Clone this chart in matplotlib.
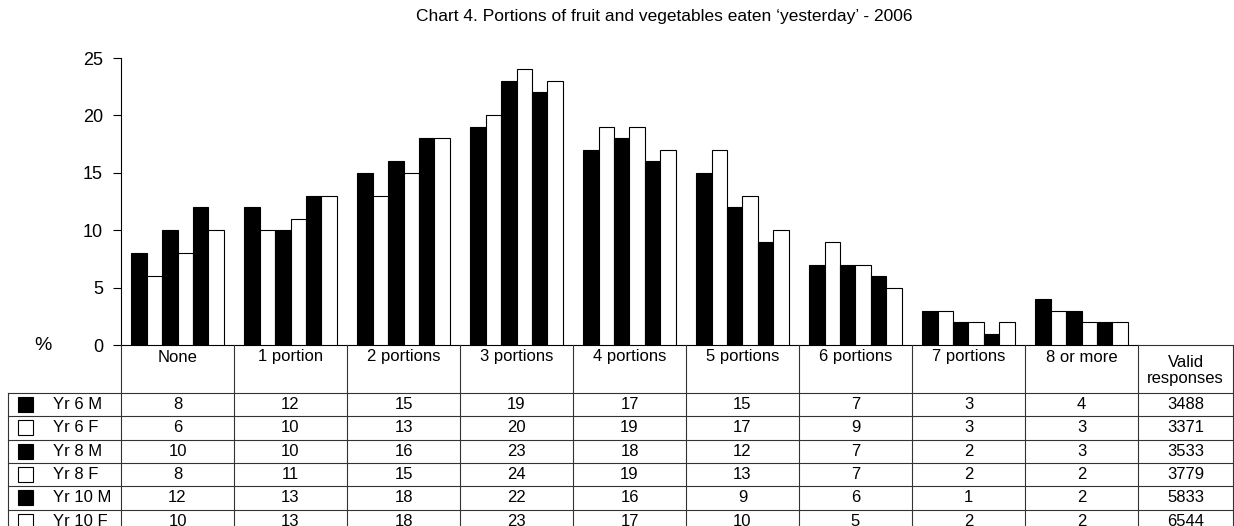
import numpy as np
import matplotlib
matplotlib.use('Agg')
import matplotlib.pyplot as plt

plt.rcParams['font.family'] = ['Liberation Sans', 'DejaVu Sans']

categories = ['None', '1 portion', '2 portions', '3 portions', '4 portions',
              '5 portions', '6 portions', '7 portions', '8 or more']
series = ['Yr 6 M', 'Yr 6 F', 'Yr 8 M', 'Yr 8 F', 'Yr 10 M', 'Yr 10 F']
colors = ['black', 'white', 'black', 'white', 'black', 'white']

yr6_m = [8, 12, 15, 19, 17, 15, 7, 3, 4]
yr6_f = [6, 10, 13, 20, 19, 17, 9, 3, 3]
yr8_m = [10, 10, 16, 23, 18, 12, 7, 2, 3]
yr8_f = [8, 11, 15, 24, 19, 13, 7, 2, 2]
yr10_m = [12, 13, 18, 22, 16, 9, 6, 1, 2]
yr10_f = [10, 13, 18, 23, 17, 10, 5, 2, 2]
values = [yr6_m, yr6_f, yr8_m, yr8_f, yr10_m, yr10_f]

valid_responses = [3488, 3371, 3533, 3779, 5833, 6544]

title = "Chart 4. Portions of fruit and vegetables eaten \u2018yesterday\u2019 - 2006"

W, H = 1234, 526
fig = plt.figure(figsize=(W / 100, H / 100), dpi=100)

# pixel layout
x_left, x_right = 121, 1138
y_zero, y_top = 345, 58
cat_w = (x_right - x_left) / len(categories)
valid_right = 1233
head_bottom = 393
row_h = 23.33
lab_left = 8
fs = 12

ax = fig.add_axes([x_left / W, 1 - y_zero / H, (x_right - x_left) / W, (y_zero - y_top) / H])
n = len(series)
bw = 0.823 / n
x = np.arange(len(categories))
for j, (name, vals) in enumerate(zip(series, values)):
    ax.bar(x + 0.0885 + bw * (j + 0.5), vals, width=bw, color=colors[j],
           edgecolor='black', linewidth=0.8, zorder=3)
ax.set_xlim(0, len(categories))
ax.set_ylim(0, 25)
ax.set_yticks(range(0, 26, 5))
ax.set_xticks([])
ax.tick_params(axis='y', length=6, width=0.8, pad=7, labelsize=13)
for s in ['top', 'right']:
    ax.spines[s].set_visible(False)
ax.spines['left'].set_linewidth(0.8)
ax.spines['bottom'].set_linewidth(0.8)
ax.patch.set_alpha(0)

# table overlay in pixel coords
tb = fig.add_axes([0, 0, 1, 1])
tb.set_xlim(0, W)
tb.set_ylim(H, 0)
tb.axis('off')
lc = '#333333'
lw = 0.8

tb.text(664, 17, title, ha='center', va='center', fontsize=12.5)
tb.text(43, 346, '%', ha='center', va='center', fontsize=14)

col_edges = [x_left + cat_w * k for k in range(len(categories) + 1)] + [valid_right]
n_rows = len(series)
row_edges = [head_bottom + row_h * r for r in range(n_rows + 1)]

# header top edge for the valid column
tb.plot([x_right, valid_right], [y_zero, y_zero], color=lc, lw=lw)
# vertical lines
for xe in col_edges:
    tb.plot([xe, xe], [y_zero, H + 5], color=lc, lw=lw)
tb.plot([lab_left, lab_left], [head_bottom, H + 5], color=lc, lw=lw)
# horizontal lines
for ye in row_edges:
    tb.plot([lab_left, valid_right], [ye, ye], color=lc, lw=lw)

# header texts
for k, cat in enumerate(categories):
    tb.text(x_left + cat_w * (k + 0.5), 357, cat, ha='center', va='center', fontsize=fs)
tb.text((x_right + valid_right) / 2, 370.5, 'Valid\nresponses', ha='center', va='center',
        fontsize=fs, linespacing=1.1)

# rows
for r, name in enumerate(series):
    yc = head_bottom + row_h * (r + 0.5)
    tb.add_patch(plt.Rectangle((18, yc - 7.5), 15, 15, facecolor=colors[r],
                               edgecolor='black', linewidth=0.8))
    tb.text(53, yc, name, ha='left', va='center', fontsize=fs)
    for k, v in enumerate(values[r]):
        tb.text(x_left + cat_w * (k + 0.5), yc, str(v), ha='center', va='center', fontsize=fs)
    tb.text((x_right + valid_right) / 2, yc, str(valid_responses[r]), ha='center',
            va='center', fontsize=fs)

fig.savefig('out.png', dpi=100)
